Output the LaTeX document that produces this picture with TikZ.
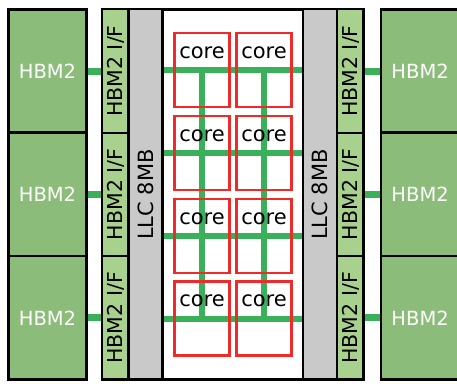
\documentclass[tikz,border=0pt]{standalone}
\usepackage{fontspec}
\setmainfont{DejaVu Sans}
\definecolor{hbmfill}{HTML}{8CBC7A}
\definecolor{iffill}{HTML}{A9D18E}
\definecolor{llcfill}{HTML}{C9C9C9}
\definecolor{meshgreen}{HTML}{3BB05B}
\definecolor{corered}{HTML}{EE2A2A}
\pgfdeclarelayer{bg}
\pgfsetlayers{bg,main}
\begin{document}
\begin{tikzpicture}[x=1pt,y=-1pt,
  hbm/.style={draw=black, line width=2.5pt, fill=hbmfill, minimum width=77.8pt, minimum height=123.4pt, inner sep=0pt, text=white, font=\fontsize{19.5}{20}\selectfont},
  ifbox/.style={draw=black, line width=2.3pt, fill=iffill, rotate=90, minimum width=123.4pt, minimum height=26.3pt, inner sep=0pt, font=\fontsize{20.5}{21}\selectfont},
  llc/.style={draw=black, line width=2.3pt, fill=llcfill, rotate=90, minimum width=370.2pt, minimum height=34pt, inner sep=0pt, font=\fontsize{21}{22}\selectfont},
  corebox/.style={draw=corered, line width=2.3pt, minimum width=55pt, inner sep=0pt, text height=25pt, text depth=49pt, font=\fontsize{21}{22}\selectfont},
  chip/.style={draw=black, line width=2.5pt, fill=white, minimum width=261.3pt, minimum height=370.2pt, inner sep=0pt},
  mesh/.style={draw=meshgreen, line width=6pt},
  link/.style={draw=meshgreen, line width=7pt}]
\useasboundingbox (0,0) rectangle (457,383);
% chip outline (background)
\begin{pgfonlayer}{bg}
  \node[chip] (chip) at (232.85,194.4) {};
\end{pgfonlayer}
% LLC columns
\node[llc] (llcL) at (145.5,194.4) {LLC 8MB};
\node[llc] (llcR) at (320.25,194.4) {LLC 8MB};
% I/F columns
\foreach \i/\y in {1/71.0,2/194.4,3/317.8}{
  \node[ifbox] (ifL\i) at (115.35,\y) {HBM2 I/F};
  \node[ifbox] (ifR\i) at (350.35,\y) {HBM2 I/F};
}
% cores
\foreach \r/\y in {1/70,2/153,3/236,4/318.5}{
  \node[corebox] (c\r1) at (202,\y) {core};
  \node[corebox] (c\r2) at (264,\y) {core};
}
% on-chip mesh (under the cores)
\begin{pgfonlayer}{bg}
  \foreach \r in {1,2,3,4}{
    \draw[mesh] (c\r1.center -| llcL.south) -- (c\r2.center -| llcR.north);
  }
  \draw[mesh] (c11.center) -- (c41.center);
  \draw[mesh] (c12.center) -- (c42.center);
\end{pgfonlayer}
% HBM stacks and links
\foreach \i/\y in {1/71.0,2/194.4,3/317.8}{
  \node[hbm] (hbmL\i) at (47.5,\y) {HBM2};
  \node[hbm] (hbmR\i) at (420.1,\y) {HBM2};
  \draw[link] (hbmL\i.east) -- (hbmL\i.east -| ifL\i.north);
  \draw[link] (ifR\i.south) -- (ifR\i.south -| hbmR\i.west);
}
\end{tikzpicture}
\end{document}
